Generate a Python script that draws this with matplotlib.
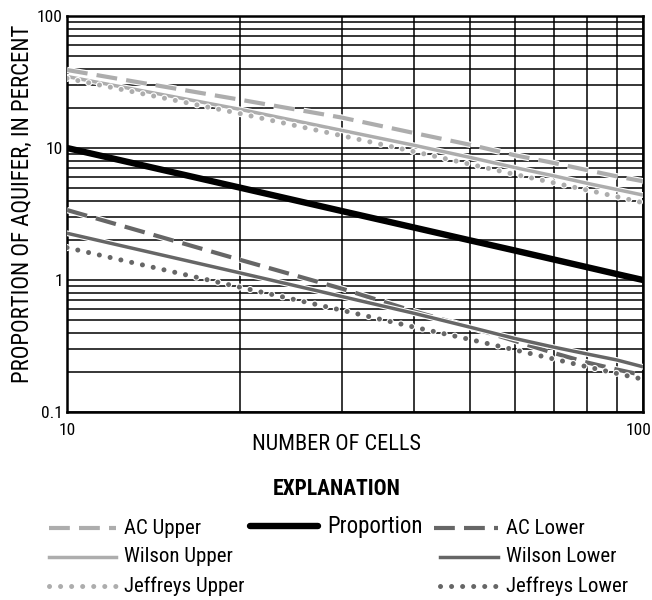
import matplotlib
matplotlib.use("Agg")
import matplotlib.pyplot as plt
from matplotlib.lines import Line2D
from matplotlib.ticker import LogLocator, NullFormatter, FixedLocator, FixedFormatter
from matplotlib import font_manager as fm
import matplotlib.patheffects as pe
import matplotlib.transforms as mtrans

# ---- pick a condensed sans font if one is installed ----
fonts = fm.fontManager.ttflist
names = {f.name for f in fonts}
family = None
stretch = "normal"
for cand in ["Liberation Sans Narrow", "Roboto Condensed", "Open Sans Condensed",
             "Noto Sans Condensed", "DejaVu Sans Condensed"]:
    if cand in names:
        family = cand
        break
if family is None:
    for base in ["Roboto", "Open Sans", "Noto Sans", "DejaVu Sans"]:
        if any(f.name == base and str(f.stretch) in ("condensed", "semi-condensed", "extra-condensed", "75", "87.5")
               for f in fonts):
            family = base
            stretch = "condensed"
            break
if family is None:
    family = "Liberation Sans"
plt.rcParams['font.family'] = [family, 'DejaVu Sans']
plt.rcParams['font.stretch'] = stretch

# ---- data ----
cells = [10, 20, 30, 40, 50, 60, 70, 80, 90, 100]
proportion = [10.0, 5.0, 3.33, 2.5, 2.0, 1.67, 1.43, 1.25, 1.11, 1.0]
ac_upper = [39.0, 23.2, 17.0, 13.0, 10.6, 8.8, 7.7, 6.8, 6.1, 5.6]
wilson_upper = [34.8, 19.6, 13.6, 10.5, 8.5, 7.1, 6.15, 5.4, 4.85, 4.4]
jeffreys_upper = [33.7, 18.2, 12.4, 9.4, 7.55, 6.3, 5.45, 4.8, 4.28, 3.85]
ac_lower = [3.39, 1.42, 0.86, 0.58, 0.44, 0.345, 0.28, 0.237, 0.21, 0.19]
wilson_lower = [2.26, 1.13, 0.75, 0.56, 0.44, 0.36, 0.31, 0.275, 0.248, 0.22]
jeffreys_lower = [1.76, 0.88, 0.59, 0.44, 0.355, 0.295, 0.252, 0.22, 0.196, 0.177]

x_ticks = [10, 100]
x_labels = ["10", "100"]
y_ticks = [0.1, 1, 10, 100]
y_labels = ["0.1", "1", "10", "100"]

LIGHT = "#adadad"
DARK = "#666666"

dash = (0, (5.0, 2.2))
dot = (0, (0.01, 2.2))

styles = {
    "AC Upper": dict(color=LIGHT, lw=3.0, ls=dash),
    "Wilson Upper": dict(color=LIGHT, lw=2.5, ls="-"),
    "Jeffreys Upper": dict(color=LIGHT, lw=3.6, ls=dot, dash_capstyle="round"),
    "Proportion": dict(color="black", lw=4.6, ls="-", solid_capstyle="round"),
    "AC Lower": dict(color=DARK, lw=3.0, ls=dash),
    "Wilson Lower": dict(color=DARK, lw=2.5, ls="-"),
    "Jeffreys Lower": dict(color=DARK, lw=3.6, ls=dot, dash_capstyle="round"),
}
series = {
    "AC Upper": ac_upper,
    "Wilson Upper": wilson_upper,
    "Jeffreys Upper": jeffreys_upper,
    "AC Lower": ac_lower,
    "Wilson Lower": wilson_lower,
    "Jeffreys Lower": jeffreys_lower,
    "Proportion": proportion,
}

fig = plt.figure(figsize=(6.52, 6.0), dpi=100)
ax = fig.add_axes([67 / 652, 1 - 412 / 600, (643 - 67) / 652, (412 - 16) / 600])
ax.set_xscale("log")
ax.set_yscale("log")
ax.set_xlim(10, 100)
ax.set_ylim(0.1, 100)

for name, vals in series.items():
    st = styles[name]
    effects = None
    if name != "Proportion":
        effects = [pe.Stroke(linewidth=st["lw"] + 1.6, foreground="white"), pe.Normal()]
    ax.plot(cells, vals, zorder=3, path_effects=effects, **st)

ax.xaxis.set_major_locator(FixedLocator(x_ticks))
ax.xaxis.set_major_formatter(FixedFormatter(x_labels))
ax.yaxis.set_major_locator(FixedLocator(y_ticks))
ax.yaxis.set_major_formatter(FixedFormatter(y_labels))
ax.xaxis.set_minor_locator(LogLocator(base=10, subs=range(2, 10)))
ax.yaxis.set_minor_locator(LogLocator(base=10, subs=range(2, 10)))
ax.xaxis.set_minor_formatter(NullFormatter())
ax.yaxis.set_minor_formatter(NullFormatter())
ax.grid(True, which="both", color="black", lw=1.1, zorder=1)
ax.set_axisbelow(True)
ax.tick_params(which="both", length=0, labelsize=12.5, pad=3)
ax.tick_params(axis="x", pad=8)
for s in ax.spines.values():
    s.set_linewidth(1.8)

fig.canvas.draw()
xt = ax.get_xticklabels()
if len(xt) >= 2:
    xt[-1].set_transform(xt[-1].get_transform() + mtrans.ScaledTranslation(-4 / 100, 0, fig.dpi_scale_trans))

ax.set_xlabel("NUMBER OF CELLS", fontsize=16)
ax.xaxis.label.set_va("center")
ax.xaxis.set_label_coords((336 - 67) / 576, (412 - 445) / 396)
ax.set_ylabel("PROPORTION OF AQUIFER, IN PERCENT", fontsize=16.5)
ax.yaxis.label.set_va("center")
ax.yaxis.set_label_coords((22 - 67) / 576, (412 - 204) / 396)

# ---- explanation (legend) ----
W, H = 652.0, 600.0
fig.text(337 / W, 1 - 489 / H, "EXPLANATION", fontsize=15.5, fontweight="bold",
         ha="center", va="center")

legend_layout = [
    ("AC Upper", 49, 116, 124, 528, 15),
    ("Wilson Upper", 49, 116, 124, 557, 15),
    ("Jeffreys Upper", 49, 116, 124, 586, 15),
    ("Proportion", 250, 318, 327, 526, 16.5),
    ("AC Lower", 434, 498, 506, 528, 15),
    ("Wilson Lower", 440, 498, 506, 557, 15),
    ("Jeffreys Lower", 440, 498, 506, 586, 15),
]
for name, x0, x1, xtp, y, fs in legend_layout:
    st = styles[name]
    ln = Line2D([x0 / W, x1 / W], [1 - y / H, 1 - y / H], transform=fig.transFigure, **st)
    fig.add_artist(ln)
    fig.text(xtp / W, 1 - y / H, name, fontsize=fs, ha="left", va="center")

fig.savefig("out.png", dpi=100)
